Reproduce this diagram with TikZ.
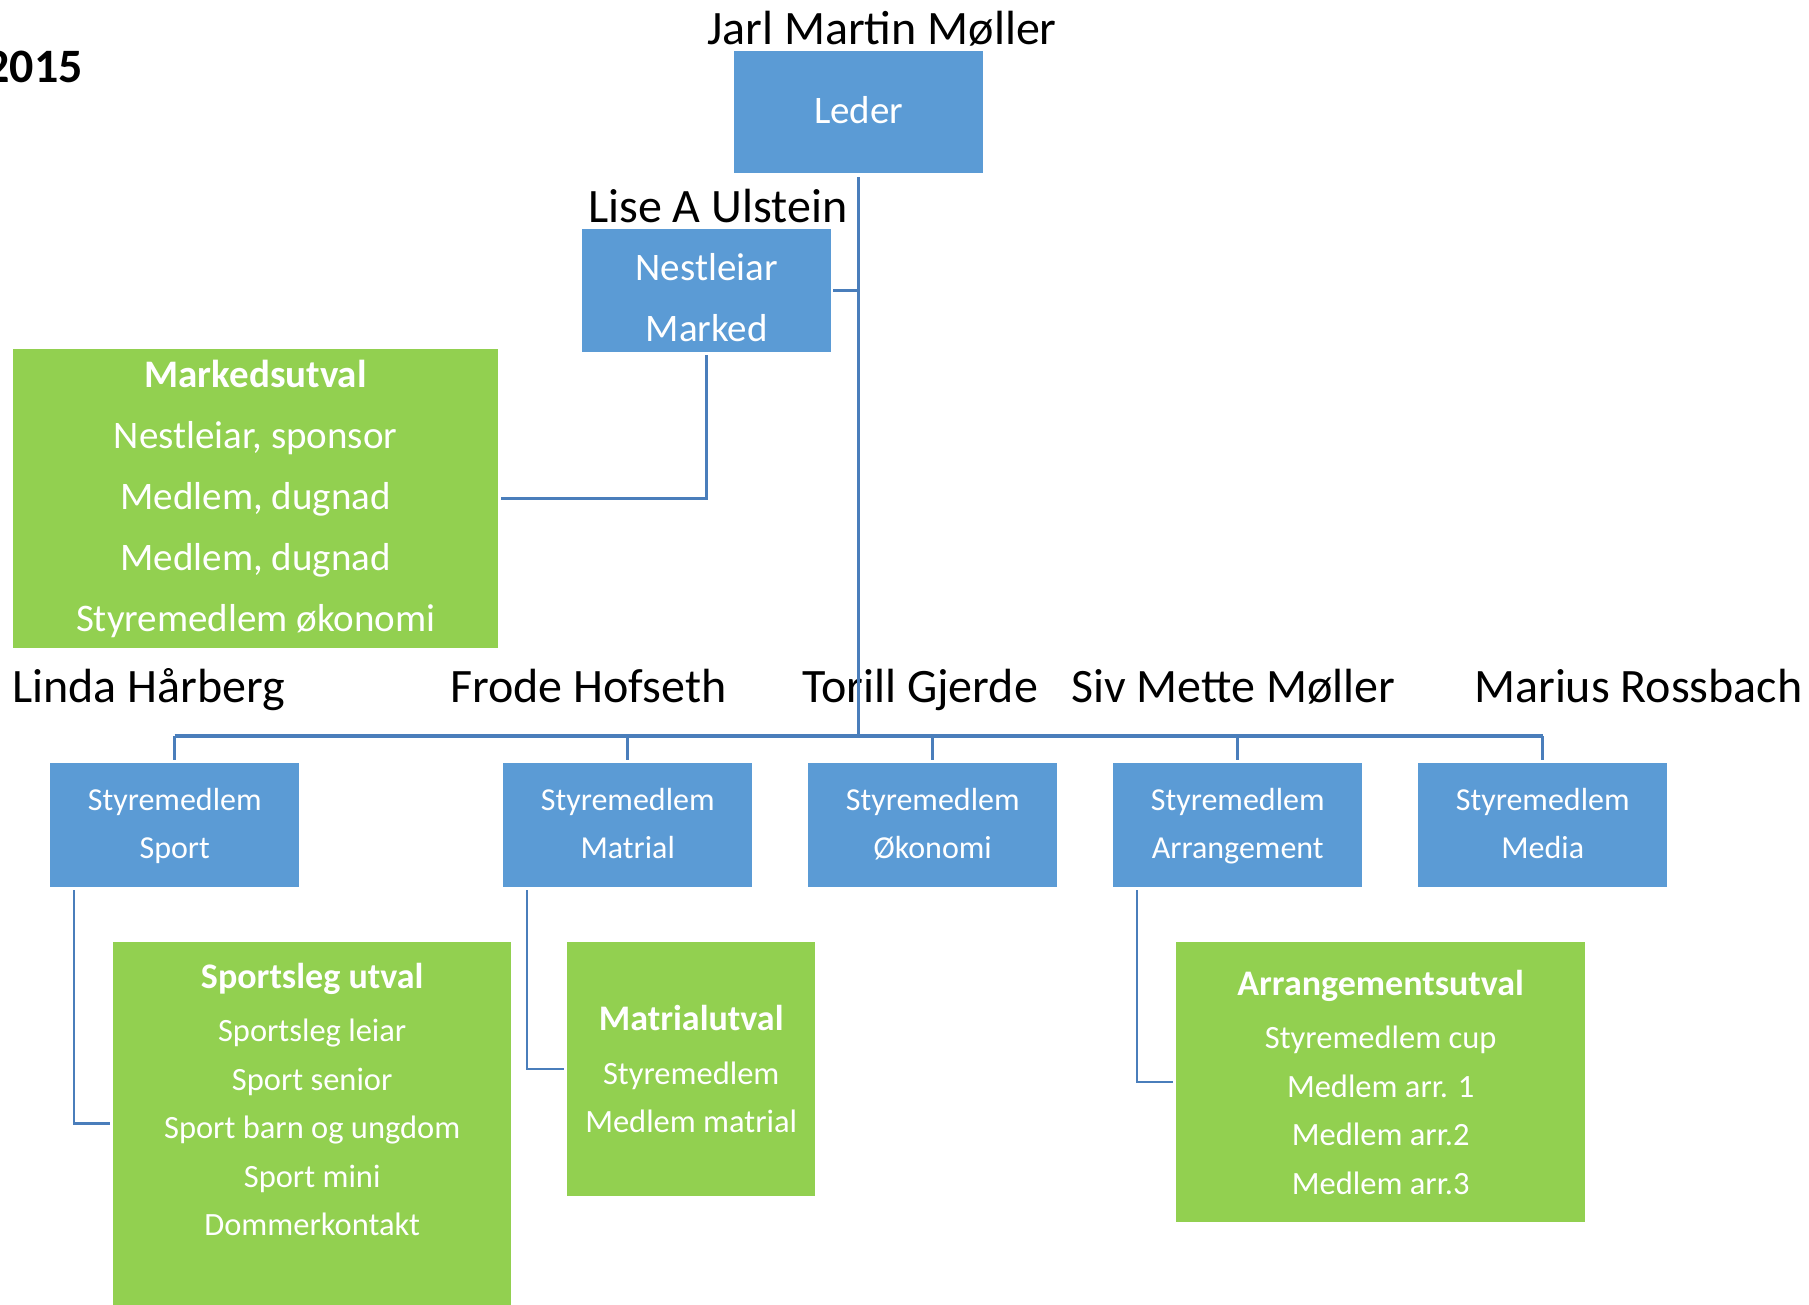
\documentclass[tikz,border=0pt]{standalone}
\usepackage{fontspec}
\setmainfont{Carlito}
\definecolor{boxblue}{HTML}{5B9BD5}
\definecolor{boxgreen}{HTML}{92D050}
\definecolor{linkblue}{HTML}{4A7EBB}
\newcommand\myfs[2]{\fontsize{#1}{#2}\selectfont}
\tikzset{
  bluebox/.style={fill=boxblue, draw=none, text=white, inner sep=0pt, anchor=north west, align=center},
  greenbox/.style={fill=boxgreen, draw=none, text=white, inner sep=0pt, anchor=north west, align=center},
  conn/.style={draw=linkblue, line width=2.5pt},
  busline/.style={draw=linkblue, line width=3.5pt},
  person/.style={anchor=base west, inner sep=0pt, font=\myfs{48}{58}},
}
\begin{document}
\begin{tikzpicture}[x=1pt,y=-1pt]
\useasboundingbox (0,0) rectangle (1809,1305);
\fill[white] (0,0) rectangle (1809,1305);

% title
\node[anchor=base east, inner sep=0pt, font=\myfs{48}{58}\bfseries] (year) at (83,83) {2015};

% top level
\node[person] (n0) at (707,45) {Jarl Martin Møller};
\node[bluebox, minimum width=249pt, minimum height=122pt, font=\myfs{39}{61}] (leder) at (734,51) {Leder\rule[-4pt]{0pt}{4pt}};

\node[person] (n1) at (588,223) {Lise A Ulstein};
\node[bluebox, minimum width=249pt, minimum height=123pt, font=\myfs{39}{61}] (nest) at (582,229) {\rule{0pt}{41pt}Nestleiar\\Marked};

\node[greenbox, minimum width=485pt, minimum height=299pt, font=\myfs{39}{61}] (mkt) at (13,349)
  {{\bfseries Markedsutval}\\Nestleiar, sponsor\\Medlem, dugnad\\Medlem, dugnad\\Styremedlem økonomi};

% names over the board
\node[person] (p1) at (12,702) {Linda Hårberg};
\node[person] (p2) at (450,702) {Frode Hofseth};
\node[person] (p3) at (802,702) {Torill Gjerde};
\node[person] (p4) at (1071,702) {Siv Mette Møller};
\node[person] (p5) at (1474,702) {Marius Rossbach};

% board members
\foreach \i/\x/\t in {1/50/Sport, 2/503/Matrial, 3/808/Økonomi, 4/1113/Arrangement, 5/1418/Media}
  \node[bluebox, minimum width=249pt, minimum height=124pt, font=\myfs{32}{48}] (s\i) at (\x,763) {\strut Styremedlem\\\strut\t};

% committees
\node[greenbox, minimum width=398pt, minimum height=363pt, font=\myfs{32.5}{48.5}] (sport) at (113,942)
  {{\myfs{36}{48.5}\bfseries Sportsleg utval}\\[5pt]Sportsleg leiar\\Sport senior\\Sport barn og ungdom\\Sport mini\\Dommerkontakt\\[0pt]\mbox{}};
\node[greenbox, minimum width=248pt, minimum height=254pt, font=\myfs{32.5}{48.5}] (mat) at (567,942)
  {{\myfs{36}{48.5}\bfseries Matrialutval}\\[5pt]Styremedlem\\Medlem matrial};
\node[greenbox, minimum width=409pt, minimum height=280pt, font=\myfs{32.5}{48.5}] (arr) at (1176,942)
  {{\myfs{36}{48.5}\bfseries Arrangementsutval}\\[5pt]Styremedlem cup\\Medlem arr. 1\\Medlem arr.2\\Medlem arr.3};

% connectors
\coordinate (bus) at (859,736);
\draw[conn] ([yshift=-4pt]leder.south) -- (leder.south |- bus);
\draw[conn] ([xshift=2pt]nest.east) -- (nest.east -| leder.south);
\draw[conn] ([yshift=-3pt]nest.south) |- ([xshift=3pt]mkt.east);
\draw[busline] (s1.north |- bus) -- (s5.north |- bus);
\foreach \i in {1,...,5}
  \draw[conn] (s\i.north |- bus) -- ([yshift=3pt]s\i.north);
\draw[conn] ([xshift=24pt,yshift=-3pt]s1.south west) |- ([xshift=-3pt]sport.west);
\draw[conn] ([xshift=24pt,yshift=-3pt]s2.south west) |- ([xshift=-3pt]mat.west);
\draw[conn] ([xshift=24pt,yshift=-3pt]s4.south west) |- ([xshift=-3pt]arr.west);
\end{tikzpicture}
\end{document}
